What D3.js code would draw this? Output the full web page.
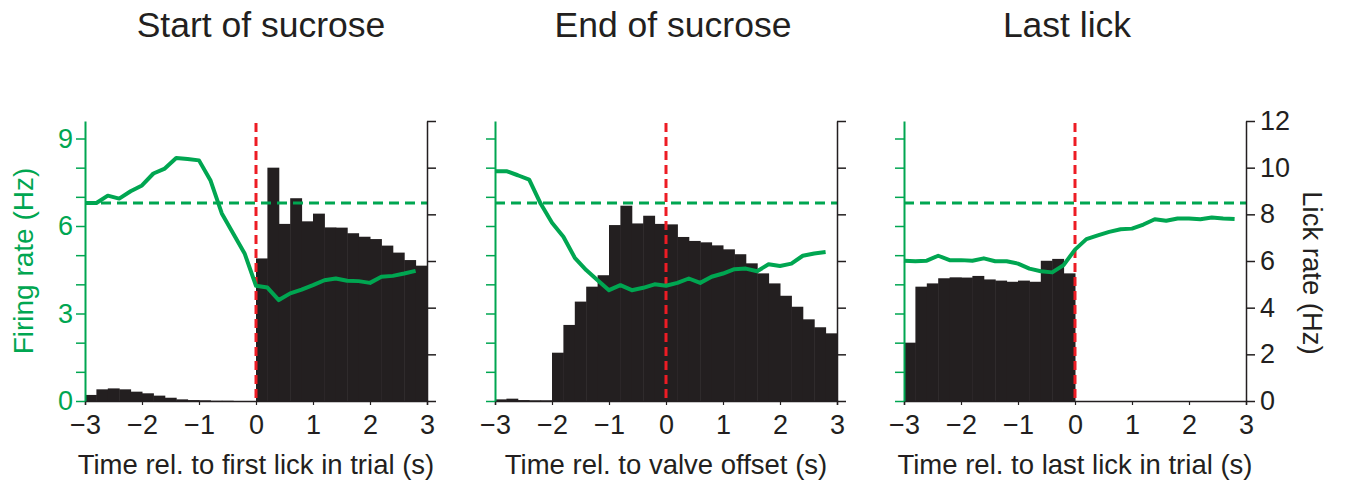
<!DOCTYPE html>
<html>
<head>
<meta charset="utf-8">
<script src="https://cdn.jsdelivr.net/npm/d3@7"></script>
<style>
  body { margin: 0; background: #fff; }
  text { font-family: "Liberation Sans", Arial, sans-serif; }
</style>
</head>
<body>
<div id="content"></div>
<script>
// ******* DATA *******
// bin left edges (s), 0.2 s bins from -3 to 3
const binStarts = d3.range(30).map(i => -3 + i * 0.2);

const panelTitles = ["Start of sucrose", "End of sucrose", "Last lick"];
const xAxisLabels = [
    "Time rel. to first lick in trial (s)",
    "Time rel. to valve offset (s)",
    "Time rel. to last lick in trial (s)"
];

// lick rate histograms (Hz, right axis)
const lickStart = [0.26, 0.5, 0.54, 0.5, 0.4, 0.33, 0.23, 0.14, 0.07, 0.04,
    0.03, 0.01, 0.01, 0, 0, 6.11, 10.0, 7.59, 8.69, 7.7,
    8.03, 7.44, 7.43, 7.19, 7.04, 6.94, 6.66, 6.36, 6.04, 5.8];
const lickEnd = [0.07, 0.1, 0.04, 0.03, 0.03, 2.07, 3.26, 4.26, 4.9, 5.39,
    7.54, 8.37, 7.61, 7.94, 7.59, 7.57, 7.03, 6.86, 6.8, 6.67,
    6.5, 6.29, 5.9, 5.47, 5.04, 4.51, 4.04, 3.5, 3.16, 2.9];
const lickLast = [2.5, 4.9, 5.04, 5.26, 5.3, 5.29, 5.36, 5.21, 5.16, 5.11,
    5.16, 5.11, 6.01, 6.09, 5.47, 0, 0, 0, 0, 0,
    0, 0, 0, 0, 0, 0, 0, 0, 0, 0];

// firing rate (Hz, left axis), sampled at bin starts
const fireStart = [6.79, 6.79, 7.04, 6.94, 7.19, 7.39, 7.8, 7.97, 8.33, 8.3,
    8.25, 7.57, 6.43, 5.74, 5.06, 3.95, 3.89, 3.46, 3.69, 3.82,
    3.97, 4.14, 4.2, 4.12, 4.11, 4.05, 4.26, 4.29, 4.37, 4.46];
const fireEnd = [7.88, 7.88, 7.74, 7.59, 6.77, 6.11, 5.63, 4.91, 4.49, 4.14,
    3.8, 3.97, 3.8, 3.88, 4.0, 3.95, 4.05, 4.2, 4.05, 4.26,
    4.37, 4.52, 4.54, 4.45, 4.69, 4.63, 4.71, 4.98, 5.06, 5.11];
const fireLast = [4.81, 4.79, 4.81, 4.98, 4.83, 4.83, 4.81, 4.89, 4.79, 4.79,
    4.71, 4.54, 4.45, 4.41, 4.66, 5.19, 5.55, 5.68, 5.8, 5.89,
    5.91, 6.05, 6.23, 6.18, 6.26, 6.26, 6.23, 6.29, 6.26, 6.24];

const baselineRate = 6.79;   // dashed green line
const xTicks = [-3, -2, -1, 0, 1, 2, 3];
const firingTicks = d3.range(0, 10);
const firingLabels = [0, 3, 6, 9];
const lickTicks = [0, 2, 4, 6, 8, 10, 12];

const panels = [
    { title: panelTitles[0], xlabel: xAxisLabels[0], lick: lickStart, fire: fireStart },
    { title: panelTitles[1], xlabel: xAxisLabels[1], lick: lickEnd, fire: fireEnd },
    { title: panelTitles[2], xlabel: xAxisLabels[2], lick: lickLast, fire: fireLast }
];

// ******* LAYOUT *******
const WIDTH = 1347, HEIGHT = 481;
const GREEN = "#00a651", RED = "#ed1c24", BAR = "#231f20";
const panelLeft = [85, 495, 904];
const panelWidth = 342;
const titleShift = [5, 7, -8];   // title centre offset from the event marker
const plotTop = 121, plotBottom = 401;

const svg = d3.select("#content").append("svg")
    .attr("width", WIDTH)
    .attr("height", HEIGHT);

const yLick = d3.scaleLinear().domain([0, 12]).range([plotBottom, plotTop]);
const yFire = d3.scaleLinear().domain([0, 9.6]).range([plotBottom, plotTop]);

panels.forEach((p, i) => {
    const x = d3.scaleLinear().domain([-3, 3]).range([panelLeft[i], panelLeft[i] + panelWidth]);
    const g = svg.append("g");

    // bars
    g.append("g").selectAll("rect")
        .data(binStarts.map((b, j) => ({ b, v: p.lick[j] })).filter(d => d.v > 0))
        .join("rect")
        .attr("x", d => x(d.b))
        .attr("width", d => x(d.b + 0.2) - x(d.b) + 0.5)
        .attr("y", d => yLick(d.v))
        .attr("height", d => plotBottom - yLick(d.v))
        .attr("fill", BAR);

    // baseline dashed
    g.append("line")
        .attr("x1", x(-3)).attr("x2", x(3))
        .attr("y1", yFire(baselineRate)).attr("y2", yFire(baselineRate))
        .attr("stroke", GREEN).attr("stroke-width", 3)
        .attr("stroke-dasharray", "10,6");

    // x axis
    const xAxis = g.append("g")
        .attr("transform", `translate(0,${plotBottom})`)
        .call(d3.axisBottom(x).tickValues(xTicks).tickSize(4).tickFormat(d => d < 0 ? "\u2212" + Math.abs(d) : d));
    xAxis.select(".domain").attr("stroke", "#231f20").attr("stroke-width", 1.5);
    xAxis.selectAll(".tick line").attr("stroke", "#231f20").attr("stroke-width", 1.2);
    xAxis.selectAll(".tick text").attr("font-size", 27).attr("dy", "0.98em").attr("fill", "#231f20");

    // left axis (firing rate)
    const yl = g.append("g")
        .attr("transform", `translate(${x(-3)},0)`)
        .call(d3.axisLeft(yFire).tickValues(firingTicks).tickSize(9).tickSizeOuter(0)
            .tickFormat(d => (i === 0 && firingLabels.includes(d)) ? d : ""));
    yl.select(".domain").attr("stroke", GREEN).attr("stroke-width", 2);
    yl.selectAll(".tick line").attr("stroke", GREEN).attr("stroke-width", 1.5);
    yl.selectAll(".tick text").attr("font-size", 27).attr("fill", GREEN).attr("x", -12);

    // right axis (lick rate)
    const yr = g.append("g")
        .attr("transform", `translate(${x(3)},0)`)
        .call(d3.axisRight(yLick).tickValues(lickTicks).tickSize(9).tickSizeOuter(0)
            .tickFormat(d => i === 2 ? d : ""));
    yr.select(".domain").attr("stroke", "#231f20").attr("stroke-width", 1.5);
    yr.selectAll(".tick line").attr("stroke", "#231f20").attr("stroke-width", 1.5);
    yr.selectAll(".tick text").attr("font-size", 27).attr("fill", "#231f20").attr("x", 14);

    // event marker
    g.append("line")
        .attr("x1", x(0)).attr("x2", x(0))
        .attr("y1", plotTop + 2).attr("y2", plotBottom)
        .attr("stroke", RED).attr("stroke-width", 3)
        .attr("stroke-dasharray", "9,5");

    // firing rate line
    const line = d3.line()
        .x((d, j) => x(binStarts[j]))
        .y(d => yFire(d));
    g.append("path")
        .datum(p.fire)
        .attr("d", line)
        .attr("fill", "none")
        .attr("stroke", GREEN)
        .attr("stroke-width", 4)
        .attr("stroke-linejoin", "round");

    // titles
    g.append("text")
        .attr("x", x(0) + titleShift[i]).attr("y", 37)
        .attr("text-anchor", "middle")
        .attr("font-size", 35.5)
        .attr("fill", "#231f20")
        .text(p.title);

    g.append("text")
        .attr("x", x(0)).attr("y", 474)
        .attr("text-anchor", "middle")
        .attr("font-size", 27.5)
        .attr("fill", "#231f20")
        .text(p.xlabel);
});

// y axis titles
svg.append("text")
    .attr("transform", `translate(33,261) rotate(-90)`)
    .attr("text-anchor", "middle")
    .attr("font-size", 28)
    .attr("fill", GREEN)
    .text("Firing rate (Hz)");

svg.append("text")
    .attr("transform", `translate(1303,273) rotate(90)`)
    .attr("text-anchor", "middle")
    .attr("font-size", 27.5)
    .attr("fill", "#231f20")
    .text("Lick rate (Hz)");
</script>
</body>
</html>
